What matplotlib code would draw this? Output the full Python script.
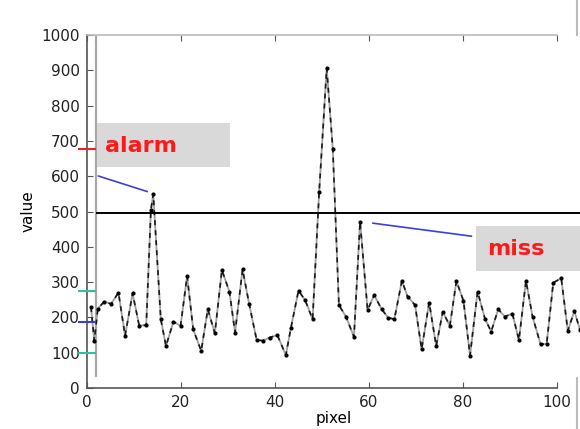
import matplotlib.pyplot as plt
from matplotlib.lines import Line2D
from matplotlib.patches import Rectangle

# data
pixel = [0.85, 1.55, 2.3, 3.7, 5.1, 6.7, 8.1, 9.7, 11.1, 12.6,
         13.6, 14.1, 15.7, 16.8, 18.4, 19.9, 21.3, 22.6, 24.3, 25.7,
         27.2, 28.7, 30.3, 31.5, 33.1, 34.5, 36.1, 37.4, 38.9, 40.5,
         42.3, 43.4, 45.0, 46.4, 48.0, 49.4, 51.0, 52.3, 53.6, 55.1,
         56.8, 58.1, 59.7, 61.1, 62.7, 64.1, 65.4, 67.0, 68.2, 69.8,
         71.2, 72.8, 74.3, 75.7, 77.2, 78.6, 80.1, 81.5, 83.1, 84.7,
         86.0, 87.5, 88.9, 90.5, 91.9, 93.4, 94.8, 96.5, 97.8, 99.2,
         100.9, 102.3, 103.7, 104.9]
value = [229, 134, 225, 245, 238, 270, 148, 268, 177, 178,
         505, 549, 195, 119, 188, 176, 317, 166, 105, 223,
         155, 334, 273, 157, 336, 238, 136, 134, 143, 150,
         93, 171, 276, 249, 195, 556, 906, 677, 235, 202,
         145, 471, 221, 263, 223, 199, 195, 304, 259, 235,
         110, 242, 119, 216, 176, 303, 247, 92, 273, 195,
         160, 223, 202, 211, 136, 304, 202, 124, 125, 298,
         311, 162, 218, 164]

threshold = 496
level_marks = [100, 188, 274, 676]
level_colors = ['#2fc29a', '#3b3bd8', '#2fc29a', '#ee2222']

alarm_point = (13.4, 554)
alarm_text_at = (1.85, 603)
miss_point = (60.2, 468)
miss_text_at = (82.4, 429)

fig = plt.figure(figsize=(5.8, 4.29), dpi=100)
ax = fig.add_axes([87 / 580, 41 / 429, 493.5 / 580, 353 / 429])
ax.set_xlim(0, 105)
ax.set_ylim(0, 1000)

# the series: gray line with black dashes on top, small dots
ax.plot(pixel, value, color='#a0a0a0', lw=1.3, zorder=3)
ax.plot(pixel, value, color='#1a1a1a', lw=1.2, dashes=(3, 3), zorder=4)
ax.plot(pixel, value, ls='none', marker='o', ms=2.0, color='black', zorder=5)

# threshold and frame-like vertical
ax.hlines(threshold, 1.85, 105, color='black', lw=1.4, zorder=6)
ax.vlines(1.85, 31, 1000, color='#a8a8a8', lw=1.6, zorder=2)

# short coloured level marks on the left axis
for lv, c in zip(level_marks, level_colors):
    ax.plot([-1.7, 1.7], [lv, lv], color=c, lw=1.5, clip_on=False, zorder=7)

# annotation boxes and pointer lines
ax.add_patch(Rectangle((2.1, 625), 28.4, 125, fc='#d9d9d9', ec='none', zorder=8))
ax.add_patch(Rectangle((82.8, 331), 22.2, 128, fc='#d9d9d9', ec='none', zorder=8,
                       clip_on=False))
ax.annotate('', xy=alarm_point, xytext=alarm_text_at,
            arrowprops=dict(arrowstyle='-', color='#3d3de0', lw=1.2), zorder=7)
ax.annotate('', xy=miss_point, xytext=miss_text_at,
            arrowprops=dict(arrowstyle='-', color='#3d3de0', lw=1.2), zorder=7)
ax.text(3.8, 686, 'alarm', color='#ff1a1a', fontsize=16, fontweight='bold',
        va='center', ha='left', zorder=9)
ax.text(85.1, 394, 'miss', color='#ff1a1a', fontsize=16, fontweight='bold',
        va='center', ha='left', zorder=9)

# spines and ticks
ax.spines['right'].set_visible(False)
ax.spines['left'].set_color('#555555')
ax.spines['bottom'].set_color('#555555')
ax.spines['top'].set_color('#bbbbbb')
ax.spines['bottom'].set_bounds(0, 100)
ax.spines['top'].set_bounds(0, 100)
for s in ax.spines.values():
    s.set_linewidth(1.2)
ax.set_xticks([0, 20, 40, 60, 80, 100])
ax.set_yticks(range(0, 1001, 100))
ax.tick_params(direction='in', length=4, labelsize=11, colors='#555555',
               labelcolor='#222222', top=True, pad=5)
ax.set_xlabel('pixel', fontsize=11, labelpad=1)
ax.set_ylabel('value', fontsize=11, labelpad=4)

fig.add_artist(Line2D([577 / 580, 577 / 580], [1, 1 - 35 / 429], color='#bbbbbb', lw=1.5))
fig.add_artist(Line2D([577 / 580, 577 / 580], [0, 1 - 378 / 429], color='#bbbbbb', lw=1.5))

fig.savefig('out.png', dpi=100)
